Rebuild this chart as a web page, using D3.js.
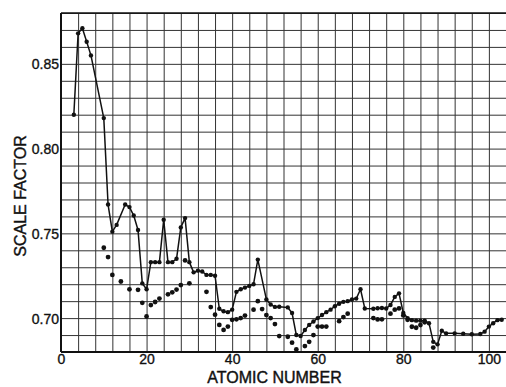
<!DOCTYPE html>
<html>
<head>
<meta charset="utf-8">
<script src="https://cdn.jsdelivr.net/npm/d3@7"></script>
<style>
  html, body { margin: 0; padding: 0; background: #fff; }
  svg { display: block; }
  text { font-family: "Liberation Sans", Arial, sans-serif; fill: #111; }
</style>
</head>
<body>
<figure id="chart" style="margin:0"></figure>
<script>
// upper curve (points joined by a line)
const upperZ = [3, 4, 5, 6, 7, 10, 11, 12, 13, 15, 16, 17, 18, 19, 20,
  21, 22, 23, 24, 25, 26, 27, 28, 29, 30, 31, 32, 33, 34, 35, 36, 37, 38, 39, 40,
  41, 42, 43, 44, 45, 46, 48, 49, 50, 51, 53, 54, 55, 56, 57, 58, 59, 60,
  61, 62, 63, 64, 65, 66, 67, 68, 69, 70, 71, 73, 74, 75, 76, 77, 78, 79, 80,
  81, 82, 83, 84, 85, 86, 87, 88, 89, 90, 92, 94, 96, 98, 99, 100, 101, 102, 103];
const upperScale = [0.820, 0.868, 0.871, 0.863, 0.855, 0.818, 0.767, 0.751, 0.755, 0.767, 0.7655, 0.7605, 0.752, 0.7205, 0.717,
  0.733, 0.733, 0.733, 0.758, 0.733, 0.733, 0.735, 0.7535, 0.759, 0.733, 0.727, 0.728, 0.7275, 0.7255, 0.7255, 0.725, 0.7055, 0.704, 0.7035, 0.705,
  0.7155, 0.717, 0.718, 0.719, 0.720, 0.7345, 0.711, 0.708, 0.7066, 0.7067, 0.7063, 0.703, 0.690, 0.6894, 0.693, 0.696, 0.698, 0.700,
  0.7018, 0.7035, 0.705, 0.707, 0.7085, 0.7096, 0.710, 0.711, 0.7115, 0.717, 0.7057, 0.7055, 0.7058, 0.706, 0.7057, 0.7077, 0.7125, 0.7146, 0.703,
  0.700, 0.6988, 0.6985, 0.6985, 0.6985, 0.697, 0.686, 0.6845, 0.6925, 0.691, 0.691, 0.6908, 0.6905, 0.6906, 0.692, 0.695, 0.697, 0.6988, 0.699];

// lower set (dots only)
const lowerZ = [10, 11, 12, 14, 16, 18, 19, 20, 21, 22, 23, 25, 26, 27, 28, 29, 30,
  34, 35, 36, 37, 38, 39, 40, 41, 42, 43, 45, 46, 47, 48, 49, 50, 51, 53, 54, 55, 57, 58, 59, 60, 61, 62,
  65, 66, 67, 73, 74, 75, 77, 78, 79, 80, 81, 82, 83, 84, 85, 87];
const lowerScale = [0.7415, 0.736, 0.7255, 0.7216, 0.717, 0.7167, 0.709, 0.701, 0.7077, 0.7095, 0.7115, 0.714, 0.7152, 0.7168, 0.7195, 0.734, 0.7205,
  0.7155, 0.7065, 0.702, 0.696, 0.693, 0.695, 0.699, 0.6993, 0.700, 0.7015, 0.705, 0.710, 0.7053, 0.7018, 0.700, 0.6965, 0.6894, 0.689, 0.6855, 0.6815, 0.6835, 0.686, 0.690, 0.695, 0.695, 0.695,
  0.6982, 0.7006, 0.7026, 0.700, 0.6992, 0.6993, 0.7026, 0.705, 0.7057, 0.7016, 0.699, 0.6949, 0.6943, 0.6959, 0.6975, 0.6826];

const xTicks = [0, 20, 40, 60, 80, 100];
const yTicks = [0.70, 0.75, 0.80, 0.85];

const W = 506, H = 387;
const plotLeft = 61, plotTop = 13, plotRight = 506, plotBottom = 352;

const svg = d3.select("#chart").append("svg")
  .attr("width", W)
  .attr("height", H);

const x = d3.scaleLinear().domain([0, 104]).range([plotLeft, plotRight]);
const y = d3.scaleLinear().domain([0.68, 0.88]).range([plotBottom, plotTop]);

// graph paper grid
svg.append("g")
  .attr("transform", "translate(0," + plotBottom + ")")
  .call(d3.axisBottom(x).tickValues(d3.range(0, 105, 4)).tickSize(-(plotBottom - plotTop)).tickFormat(""))
  .call(g => g.select(".domain").remove())
  .selectAll("line")
  .attr("stroke", "#333")
  .attr("stroke-width", 1);

svg.append("g")
  .attr("transform", "translate(" + plotLeft + ",0)")
  .call(d3.axisLeft(y).tickValues(d3.range(68, 89, 1).map(d => d / 100)).tickSize(-(plotRight - plotLeft)).tickFormat(""))
  .call(g => g.select(".domain").remove())
  .selectAll("line")
  .attr("stroke", "#333")
  .attr("stroke-width", 1);

// frame
svg.append("line").attr("x1", plotLeft).attr("x2", plotRight).attr("y1", plotTop).attr("y2", plotTop)
  .attr("stroke", "#111").attr("stroke-width", 1.6);
svg.append("line").attr("x1", plotLeft).attr("x2", plotRight).attr("y1", plotBottom).attr("y2", plotBottom)
  .attr("stroke", "#111").attr("stroke-width", 2);
svg.append("line").attr("x1", plotLeft).attr("x2", plotLeft).attr("y1", plotTop).attr("y2", plotBottom)
  .attr("stroke", "#111").attr("stroke-width", 2);

// tick labels
svg.append("g")
  .attr("transform", "translate(0," + (plotBottom + 12) + ")")
  .call(d3.axisBottom(x).tickValues(xTicks).tickSize(0).tickPadding(0).tickFormat(d3.format("d")))
  .call(g => g.select(".domain").remove())
  .selectAll("text")
  .attr("dy", 0)
  .style("font-size", "14px")
  .style("font-family", "Liberation Sans, Arial, sans-serif")
  .attr("fill", "#111")
  .attr("stroke", "#111")
  .attr("stroke-width", 0.35);

svg.append("g")
  .attr("transform", "translate(" + (plotLeft - 2) + ",0)")
  .call(d3.axisLeft(y).tickValues(yTicks).tickSize(0).tickPadding(0).tickFormat(d3.format(".2f")))
  .call(g => g.select(".domain").remove())
  .selectAll("text")
  .attr("dy", "0.36em")
  .style("font-size", "14px")
  .style("font-family", "Liberation Sans, Arial, sans-serif")
  .attr("fill", "#111")
  .attr("stroke", "#111")
  .attr("stroke-width", 0.35);

// curves
const upper = upperZ.map((z, i) => ({z: z, v: upperScale[i]}));
const lower = lowerZ.map((z, i) => ({z: z, v: lowerScale[i]}));

svg.append("path")
  .datum(upper)
  .attr("fill", "none")
  .attr("stroke", "#111")
  .attr("stroke-width", 1.5)
  .attr("stroke-linejoin", "round")
  .attr("d", d3.line().x(d => x(d.z)).y(d => y(d.v)));

svg.selectAll(".up")
  .data(upper)
  .enter()
  .append("circle")
  .attr("class", "up")
  .attr("cx", d => x(d.z))
  .attr("cy", d => y(d.v))
  .attr("r", 2.2)
  .attr("fill", "#111");

svg.selectAll(".low")
  .data(lower)
  .enter()
  .append("circle")
  .attr("class", "low")
  .attr("cx", d => x(d.z))
  .attr("cy", d => y(d.v))
  .attr("r", 2.4)
  .attr("fill", "#111");

// axis titles
svg.append("text")
  .attr("x", 274.5)
  .attr("y", 383)
  .attr("text-anchor", "middle")
  .attr("stroke", "#111")
  .attr("stroke-width", 0.4)
  .style("font-size", "16px")
  .text("ATOMIC NUMBER");

svg.append("text")
  .attr("transform", "translate(26,196) rotate(-90)")
  .attr("text-anchor", "middle")
  .attr("stroke", "#111")
  .attr("stroke-width", 0.4)
  .style("font-size", "16px")
  .text("SCALE FACTOR");
</script>
</body>
</html>
